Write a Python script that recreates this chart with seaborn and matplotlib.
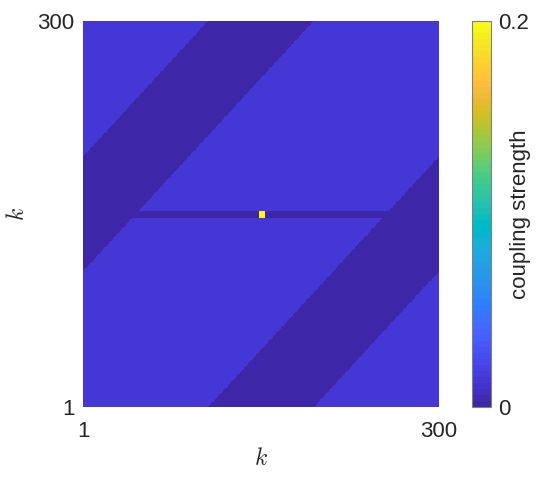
import numpy as np
import matplotlib
matplotlib.use("Agg")
import matplotlib.pyplot as plt
from matplotlib.colors import ListedColormap
import seaborn as sns

# grid / coupling parameters
n = 300
base_value = 0.0133          # weak background coupling
peak_value = 0.2             # single strong coupling at the centre
band_lo, band_hi = 106, 194  # |i-j| range with zero coupling
gap_rows = [148, 149, 150, 151, 152]   # rows with no coupling (1-based k)
peak_rows = [148, 149, 150, 151, 152]
peak_cols = [149, 150, 151, 152, 153]
tick_labels = ["1", "300"]

# MATLAB parula (64 entries)
parula_rgb = [
    [0.2422, 0.1504, 0.6603], [0.2504, 0.1650, 0.7076], [0.2578, 0.1818, 0.7511],
    [0.2647, 0.1978, 0.7952], [0.2706, 0.2147, 0.8364], [0.2751, 0.2342, 0.8710],
    [0.2783, 0.2559, 0.8991], [0.2803, 0.2782, 0.9221], [0.2813, 0.3006, 0.9414],
    [0.2810, 0.3228, 0.9579], [0.2795, 0.3447, 0.9717], [0.2760, 0.3667, 0.9829],
    [0.2699, 0.3892, 0.9906], [0.2602, 0.4123, 0.9952], [0.2440, 0.4358, 0.9988],
    [0.2206, 0.4603, 0.9973], [0.1963, 0.4847, 0.9892], [0.1834, 0.5074, 0.9798],
    [0.1786, 0.5289, 0.9682], [0.1764, 0.5499, 0.9520], [0.1687, 0.5703, 0.9359],
    [0.1540, 0.5902, 0.9218], [0.1460, 0.6091, 0.9079], [0.1380, 0.6276, 0.8973],
    [0.1248, 0.6459, 0.8883], [0.1113, 0.6635, 0.8763], [0.0952, 0.6798, 0.8598],
    [0.0689, 0.6948, 0.8394], [0.0297, 0.7082, 0.8163], [0.0036, 0.7203, 0.7917],
    [0.0067, 0.7312, 0.7660], [0.0433, 0.7411, 0.7394], [0.0964, 0.7500, 0.7120],
    [0.1408, 0.7584, 0.6842], [0.1717, 0.7670, 0.6554], [0.1938, 0.7758, 0.6251],
    [0.2161, 0.7843, 0.5923], [0.2470, 0.7918, 0.5567], [0.2906, 0.7973, 0.5188],
    [0.3406, 0.8008, 0.4789], [0.3909, 0.8029, 0.4354], [0.4456, 0.8024, 0.3909],
    [0.5044, 0.7993, 0.3480], [0.5616, 0.7942, 0.3045], [0.6174, 0.7876, 0.2612],
    [0.6720, 0.7793, 0.2227], [0.7242, 0.7698, 0.1910], [0.7738, 0.7598, 0.1646],
    [0.8203, 0.7498, 0.1535], [0.8634, 0.7406, 0.1596], [0.9035, 0.7330, 0.1774],
    [0.9393, 0.7288, 0.2100], [0.9728, 0.7298, 0.2394], [0.9956, 0.7434, 0.2371],
    [0.9970, 0.7659, 0.2199], [0.9952, 0.7893, 0.2028], [0.9892, 0.8136, 0.1885],
    [0.9786, 0.8386, 0.1766], [0.9676, 0.8639, 0.1643], [0.9610, 0.8890, 0.1537],
    [0.9597, 0.9135, 0.1423], [0.9628, 0.9373, 0.1265], [0.9691, 0.9606, 0.1064],
    [0.9769, 0.9839, 0.0805],
]
parula = ListedColormap(parula_rgb, name="parula")

# build the coupling matrix (row index = k on y axis, col = k on x axis)
k = np.arange(1, n + 1)
diff = np.abs(k[:, None] - k[None, :])
C = np.full((n, n), base_value)
C[(diff >= band_lo) & (diff <= band_hi)] = 0.0
C[np.array(gap_rows) - 1, :] = 0.0
C[np.ix_(np.array(peak_rows) - 1, np.array(peak_cols) - 1)] = peak_value

sns.set_theme(style="white")
plt.rcParams["font.family"] = ["Liberation Sans", "DejaVu Sans"]
plt.rcParams["mathtext.fontset"] = "cm"

fig = plt.figure(figsize=(5.5, 4.83), dpi=100)
ax = fig.add_axes([0.151, 0.157, 0.647, 0.800])
cax = fig.add_axes([0.858, 0.157, 0.0345, 0.800])

sns.heatmap(C, ax=ax, cbar_ax=cax, cmap=parula, vmin=0, vmax=0.2,
            xticklabels=False, yticklabels=False, linewidths=0,
            rasterized=True)
ax.invert_yaxis()

ax.set_xticks([0, n])
ax.set_xticklabels(tick_labels, fontsize=16)
ax.set_yticks([0, n])
ax.set_yticklabels(tick_labels, fontsize=16, rotation=0)
ax.tick_params(axis="x", length=0, pad=10, colors="#262626")
ax.tick_params(axis="y", length=0, pad=6, colors="#262626")
for s in ax.spines.values():
    s.set_visible(False)

ax.set_xlabel("$k$", fontsize=17, labelpad=4)
ax.set_ylabel("$k$", fontsize=17, labelpad=6)

cbar = ax.collections[0].colorbar
cbar.set_ticks([0, 0.2])
cbar.set_ticklabels(["0", "0.2"])
cbar.ax.tick_params(length=0, labelsize=16, pad=5, colors="#262626")
cbar.outline.set_visible(True)
cbar.outline.set_edgecolor("#808080")
cbar.outline.set_linewidth(0.8)
cbar.ax.set_ylabel("coupling strength", fontsize=16, rotation=90,
                   va="center", ha="center", color="#262626")
cbar.ax.yaxis.set_label_coords(2.55, 0.5)

fig.savefig("out.png", dpi=100)
